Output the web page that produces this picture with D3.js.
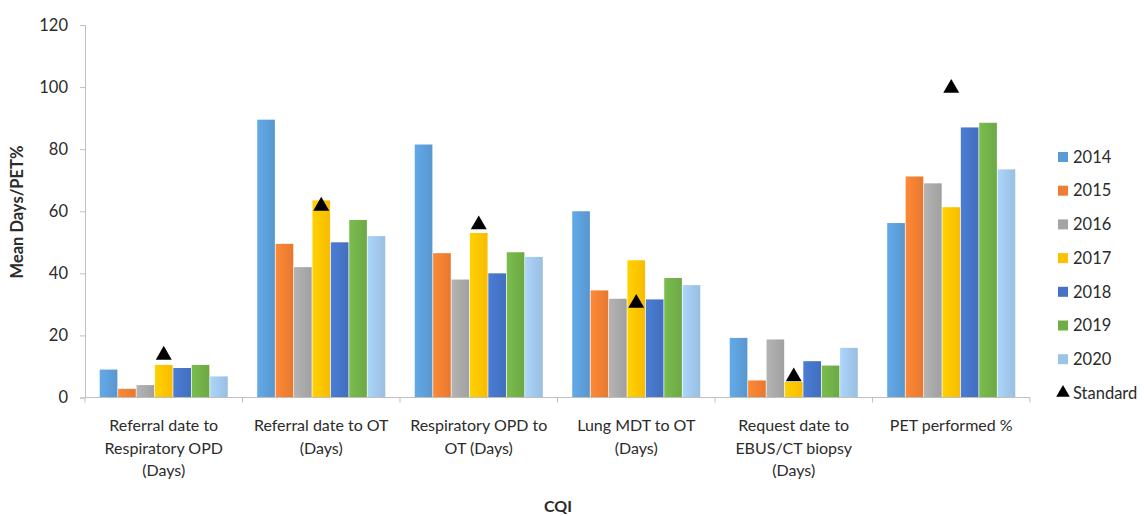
<!DOCTYPE html>
<html>
<head>
<meta charset="utf-8">
<script src="https://cdn.jsdelivr.net/npm/d3@7"></script>
<style>
html,body{margin:0;padding:0;background:#fff;}
svg{display:block;font-family:Lato, "Open Sans", sans-serif;}
</style>
</head>
<body>
<svg id="chart" width="1144" height="516"></svg>
<script>
const categories = [
  "Referral date to\nRespiratory OPD\n(Days)",
  "Referral date to OT\n(Days)",
  "Respiratory OPD to\nOT (Days)",
  "Lung MDT to OT\n(Days)",
  "Request date to\nEBUS/CT biopsy\n(Days)",
  "PET performed %"
];
const years = ["2014","2015","2016","2017","2018","2019","2020"];
const v2014 = [9, 89.5, 81.5, 60, 19.2, 56.2];
const v2015 = [2.8, 49.5, 46.5, 34.5, 5.5, 71.2];
const v2016 = [4, 42, 38, 31.8, 18.7, 69];
const v2017 = [10.5, 63.5, 53, 44.2, 5, 61.3];
const v2018 = [9.5, 50, 40, 31.6, 11.7, 87];
const v2019 = [10.5, 57.2, 46.8, 38.5, 10.3, 88.5];
const v2020 = [6.8, 52, 45.3, 36.2, 16, 73.5];
const standard = [14, 62, 56, 30.7, 7, 100];
const yTicks = [0, 20, 40, 60, 80, 100, 120];
const colors = ["#5B9BD5","#ED7D31","#A5A5A5","#FFC000","#4472C4","#70AD47","#9DC3E6"];

const seriesValues = [v2014, v2015, v2016, v2017, v2018, v2019, v2020];

const svg = d3.select("#chart");
const mLeft = 85, mRight = 1030, mTop = 25, mBottom = 397.5;
const textColor = "#2b2b2b";

const x0 = d3.scaleBand().domain(categories).range([mLeft, mRight]).paddingInner(0).paddingOuter(0);
const x1 = d3.scaleBand().domain(years).range([0, x0.bandwidth()]).paddingInner(0.04).paddingOuter(0.8);
const y = d3.scaleLinear().domain([0, 120]).range([mBottom, mTop]);
const color = d3.scaleOrdinal().domain(years).range(colors);

// gradients
const defs = svg.append("defs");
years.forEach((yr, i) => {
  const g = defs.append("linearGradient").attr("id", "g" + yr).attr("x1", "0").attr("x2", "1").attr("y1", "0").attr("y2", "0");
  const c = d3.color(colors[i]);
  g.append("stop").attr("offset", "0").attr("stop-color", c.brighter(0.25).formatHex());
  g.append("stop").attr("offset", "1").attr("stop-color", c.darker(0.08).formatHex());
});

// bars
const groups = svg.append("g").selectAll("g").data(categories).join("g")
  .attr("transform", d => `translate(${x0(d)},0)`);
groups.selectAll("rect")
  .data((d, ci) => years.map((yr, si) => ({yr, v: seriesValues[si][ci]})))
  .join("rect")
  .attr("x", d => x1(d.yr))
  .attr("width", x1.bandwidth())
  .attr("y", d => y(d.v))
  .attr("height", d => y(0) - y(d.v))
  .attr("fill", d => `url(#g${d.yr})`);

// y axis
const yAxis = d3.axisLeft(y).tickValues(yTicks).tickSize(5).tickPadding(12);
const ya = svg.append("g").attr("transform", `translate(${mLeft},0)`).call(yAxis);
ya.select(".domain").attr("stroke", "#BFBFBF");
ya.selectAll(".tick line").attr("stroke", "#BFBFBF");
ya.selectAll(".tick text").attr("font-size", 16.5).attr("fill", textColor).attr("font-family", "Lato, sans-serif");

// x axis
const xa = svg.append("g").attr("transform", `translate(0,${mBottom})`);
xa.append("line").attr("x1", mLeft).attr("x2", mRight).attr("stroke", "#BFBFBF");
const bounds = categories.map(c => x0(c)).concat([mRight]);
xa.selectAll("line.tk").data(bounds).join("line").attr("class", "tk")
  .attr("x1", d => d).attr("x2", d => d).attr("y1", 0).attr("y2", 5).attr("stroke", "#BFBFBF");

// category labels
const labels = svg.append("g").selectAll("text").data(categories).join("text")
  .attr("x", d => x0(d) + x0.bandwidth() / 2)
  .attr("y", 431)
  .attr("text-anchor", "middle")
  .attr("font-size", 16)
  .attr("fill", textColor);
labels.each(function(d) {
  const t = d3.select(this);
  d.split("\n").forEach((line, i) => {
    t.append("tspan").attr("x", x0(d) + x0.bandwidth() / 2).attr("dy", i === 0 ? 0 : 22.5).text(line);
  });
});

// standard markers
const tri = d3.symbol().type(d3.symbolTriangle).size(110);
svg.append("g").selectAll("path").data(categories).join("path")
  .attr("d", tri)
  .attr("fill", "#000")
  .attr("transform", (d, i) => `translate(${x0(d) + x1("2017") + x1.bandwidth() / 2},${y(standard[i]) + 1})`);

// axis titles
svg.append("text").attr("x", 558).attr("y", 512).attr("text-anchor", "middle")
  .attr("font-size", 16).attr("font-weight", "bold").attr("fill", textColor).text("CQI");
svg.append("text").attr("transform", "translate(23,212) rotate(-90)").attr("text-anchor", "middle")
  .attr("font-size", 16.5).attr("font-weight", "bold").attr("fill", textColor).text("Mean Days/PET%");

// legend
const legend = svg.append("g").attr("transform", "translate(1057,157)");
const items = years.concat(["Standard"]);
const li = legend.selectAll("g").data(items).join("g").attr("transform", (d, i) => `translate(0,${i * 33.7})`);
li.each(function(d) {
  const g = d3.select(this);
  if (d === "Standard") {
    g.append("path").attr("d", d3.symbol().type(d3.symbolTriangle).size(80)).attr("transform", "translate(6,0)").attr("fill", "#000");
  } else {
    g.append("rect").attr("x", 1).attr("y", -5).attr("width", 10).attr("height", 10).attr("fill", color(d));
  }
  g.append("text").attr("x", 16).attr("y", 0).attr("dy", "0.35em").attr("font-size", 16.5).attr("fill", textColor).text(d);
});
</script>
</body>
</html>
